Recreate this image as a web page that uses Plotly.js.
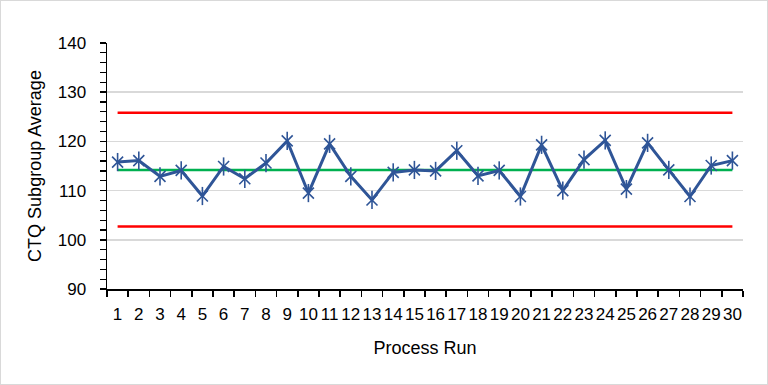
<!DOCTYPE html>
<html>
<head>
<meta charset="utf-8">
<script src="https://cdn.plot.ly/plotly-3.0.1.min.js"></script>
<style>
html,body{margin:0;padding:0;background:#fff;}
#chart{width:766px;height:383px;border:1px solid #d9d9d9;}
</style>
</head>
<body>
<div id="chart"></div>
<script>
const runs = ["1","2","3","4","5","6","7","8","9","10","11","12","13","14","15","16","17","18","19","20","21","22","23","24","25","26","27","28","29","30"];
const subgroupAverage = [115.8,116.1,112.9,114.1,108.9,114.9,112.4,115.6,120.1,109.5,119.5,112.9,108.1,113.7,114.2,114.0,118.1,113.0,114.1,108.8,119.3,110.0,116.3,120.2,110.3,119.7,114.2,108.8,115.1,116.1];
const centerLine = 114.2;
const upperLimit = 125.8;
const lowerLimit = 102.7;

const blue = '#2F5597';
const traces = [
  {x: runs, y: runs.map(() => upperLimit), mode: 'lines', line: {color: '#FF0000', width: 2.5}, hoverinfo: 'skip'},
  {x: runs, y: runs.map(() => lowerLimit), mode: 'lines', line: {color: '#FF0000', width: 2.5}, hoverinfo: 'skip'},
  {x: runs, y: runs.map(() => centerLine), mode: 'lines', line: {color: '#00B050', width: 2.5}, hoverinfo: 'skip'},
  {x: runs, y: subgroupAverage, mode: 'lines+markers', line: {color: blue, width: 3},
   marker: {symbol: 'x-thin-open', size: 11, color: blue, line: {color: blue, width: 1.6}}},
  {x: runs, y: subgroupAverage, mode: 'markers',
   marker: {symbol: 'line-ns-open', size: 13, color: blue, line: {color: blue, width: 1.6}}}
];

const layout = {
  width: 766, height: 383,
  margin: {l: 106, r: 24, t: 42, b: 95},
  paper_bgcolor: '#fff', plot_bgcolor: '#fff',
  showlegend: false,
  font: {family: 'Liberation Sans, Arial, sans-serif', size: 17, color: '#000'},
  xaxis: {
    type: 'category', range: [-0.5, 29.5], tickson: 'boundaries',
    tickangle: 0,
    ticks: 'outside', ticklen: 6, tickcolor: '#000', tickwidth: 1.5,
    showline: true, linecolor: '#000', linewidth: 1.5,
    showgrid: false, zeroline: false,
    tickfont: {size: 17},
    ticklabelstandoff: 9,
    title: {text: 'Process Run', font: {size: 18}, standoff: 18}
  },
  yaxis: {
    range: [90, 140], dtick: 10, tick0: 90,
    ticks: 'outside', ticklen: 6, tickcolor: '#000', tickwidth: 1.5,
    minor: {dtick: 2, ticks: 'outside', ticklen: 6, tickcolor: '#000', tickwidth: 1.2, showgrid: false},
    showline: true, linecolor: '#000', linewidth: 1.5,
    showgrid: true, gridcolor: '#d9d9d9', gridwidth: 1.5,
    zeroline: false,
    tickfont: {size: 17},
    ticklabelstandoff: 10,
    title: {text: 'CTQ Subgroup Average', font: {size: 18}, standoff: 11}
  }
};

Plotly.newPlot('chart', traces, layout, {displayModeBar: false, staticPlot: true});
</script>
</body>
</html>
